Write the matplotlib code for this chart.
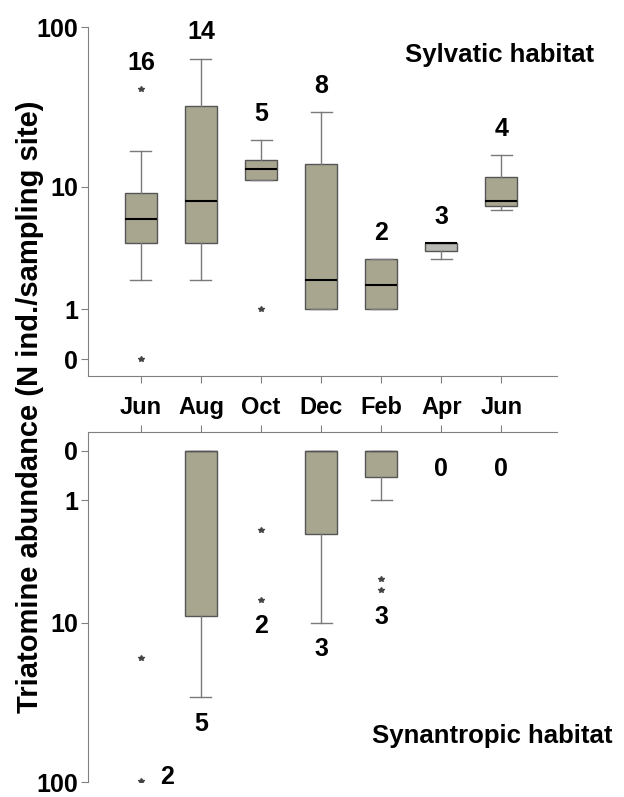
import numpy as np
import matplotlib
matplotlib.use("Agg")
import matplotlib.pyplot as plt

plt.rcParams["font.family"] = ["Liberation Sans", "DejaVu Sans"]
plt.rcParams["font.weight"] = "bold"

months = ["Jun", "Aug", "Oct", "Dec", "Feb", "Apr", "Jun"]

# sylvatic habitat (N ind./sampling site)
sylv_lo = [2, 2, 11, 1, 1, 3, 7]
sylv_q1 = [4, 4, 11, 1, 1, 3.5, 7.4]
sylv_med = [6, 8, 13, 2, 1.8, 4, 8]
sylv_q3 = [9, 32.5, 15, 14, 3, 4, 11.5]
sylv_hi = [17, 64, 20, 30, 3, 4, 16]
sylv_out = [[41.5, 0], [], [1], [], [], [], []]
sylv_n = [16, 14, 5, 8, 2, 3, 4]

# synantropic habitat
syn_box = [False, True, False, True, True, False, False]
syn_q1 = [0, 0, 0, 0, 0, 0, 0]
syn_med = [0, 0, 0, 0, 0, 0, 0]
syn_q3 = [0, 9, 0, 2.2, 0.45, 0, 0]
syn_hi = [0, 30, 0, 10, 1, 0, 0]
syn_out = [[17, 98], [], [2, 7], [], [5, 6], [], []]
syn_n = [2, 5, 2, 3, 3, 0, 0]

box_col = "#a9a690"
edge_col = "#555555"
line_col = "#7a7a7a"


def fwd(x):
    with np.errstate(invalid="ignore", divide="ignore"):
        return np.log10(np.asarray(x) + 1)


def inv(y):
    return 10 ** np.asarray(y) - 1


pos = np.arange(1, len(months) + 1)
yticks = [0, 1, 10, 100]

fig = plt.figure(figsize=(6.24, 7.97), dpi=100)
ax1 = fig.add_axes([0.141, 0.528, 0.752, 0.438])
ax2 = fig.add_axes([0.141, 0.0185, 0.752, 0.4395])

# ---- top panel
stats = []
for i in range(len(months)):
    stats.append({"whislo": sylv_lo[i], "q1": sylv_q1[i], "med": sylv_med[i],
                  "q3": sylv_q3[i], "whishi": sylv_hi[i], "fliers": sylv_out[i]})
ax1.set_yscale("function", functions=(fwd, inv))
bp = ax1.bxp(stats, positions=pos, widths=0.53, capwidths=0.35, patch_artist=True,
             boxprops=dict(facecolor=box_col, edgecolor=edge_col, linewidth=1),
             medianprops=dict(color="black", linewidth=1.5),
             whiskerprops=dict(color=line_col, linewidth=1),
             capprops=dict(color=line_col, linewidth=1),
             flierprops=dict(marker="*", markersize=4, markerfacecolor="#444444",
                             markeredgecolor="#444444", linestyle="none"))
bp["boxes"][5].set_facecolor("#b8b8b4")

for i in range(len(months)):
    top = max([sylv_hi[i]] + sylv_out[i])
    ax1.annotate(str(sylv_n[i]), (pos[i], top), xytext=(0, 19), textcoords="offset points",
                 ha="center", va="center", fontsize=18, fontweight="bold")

ax1.set_ylim(inv(-0.103), 100)
ax1.set_xlim(0.12, 7.93)
ax1.set_yticks(yticks)
ax1.set_yticklabels([str(t) for t in yticks])
ax1.yaxis.set_minor_locator(matplotlib.ticker.NullLocator())
ax1.set_xticks(pos)
ax1.set_xticklabels([])
for s in ["top", "right"]:
    ax1.spines[s].set_visible(False)
for s in ["left", "bottom"]:
    ax1.spines[s].set_color("#808080")
ax1.tick_params(axis="both", colors="#808080", labelcolor="black", labelsize=18, length=5)
ax1.tick_params(axis="y", pad=2)
ax1.text(0.878, 0.92, "Sylvatic habitat", transform=ax1.transAxes, ha="center",
         va="center", fontsize=18.5, fontweight="bold")

# ---- bottom panel
stats2 = []
bpos = []
for i in range(len(months)):
    if syn_box[i]:
        stats2.append({"whislo": syn_q1[i], "q1": syn_q1[i], "med": syn_med[i],
                       "q3": syn_q3[i], "whishi": syn_hi[i], "fliers": []})
        bpos.append(pos[i])
ax2.set_yscale("function", functions=(fwd, inv))
ax2.bxp(stats2, positions=bpos, widths=0.53, capwidths=0.35, patch_artist=True,
        boxprops=dict(facecolor=box_col, edgecolor=edge_col, linewidth=1),
        medianprops=dict(color=edge_col, linewidth=1),
        whiskerprops=dict(color=line_col, linewidth=1),
        capprops=dict(color=line_col, linewidth=1))
for i in range(len(months)):
    if syn_out[i]:
        ax2.plot([pos[i]] * len(syn_out[i]), syn_out[i], linestyle="none", marker="*",
                 markersize=4, color="#444444")

for i in range(len(months)):
    low = max([syn_hi[i], syn_q3[i]] + syn_out[i])
    if low >= 90:
        off = (19, 3)
    elif syn_n[i] == 0:
        off = (0, -13)
    else:
        off = (0, -19)
    ax2.annotate(str(syn_n[i]), (pos[i], low), xytext=off, textcoords="offset points",
                 ha="center", va="center", fontsize=18, fontweight="bold")

ax2.set_ylim(100, inv(-0.113))
ax2.set_xlim(0.12, 7.93)
ax2.set_yticks(yticks)
ax2.set_yticklabels([str(t) for t in yticks])
ax2.yaxis.set_minor_locator(matplotlib.ticker.NullLocator())
ax2.set_xticks(pos)
ax2.set_xticklabels(months)
ax2.xaxis.tick_top()
for s in ["bottom", "right"]:
    ax2.spines[s].set_visible(False)
for s in ["left", "top"]:
    ax2.spines[s].set_color("#808080")
ax2.tick_params(axis="both", colors="#808080", labelcolor="black", labelsize=18, length=5)
ax2.tick_params(axis="x", pad=4, labelsize=17)
ax2.tick_params(axis="y", pad=2)
ax2.text(0.861, 0.132, "Synantropic habitat", transform=ax2.transAxes, ha="center",
         va="center", fontsize=18.5, fontweight="bold", clip_on=False)

fig.text(0.048, 0.49, "Triatomine abundance (N ind./sampling site)", rotation=90,
         ha="center", va="center", fontsize=21, fontweight="bold")

fig.savefig("out.png", dpi=100)
